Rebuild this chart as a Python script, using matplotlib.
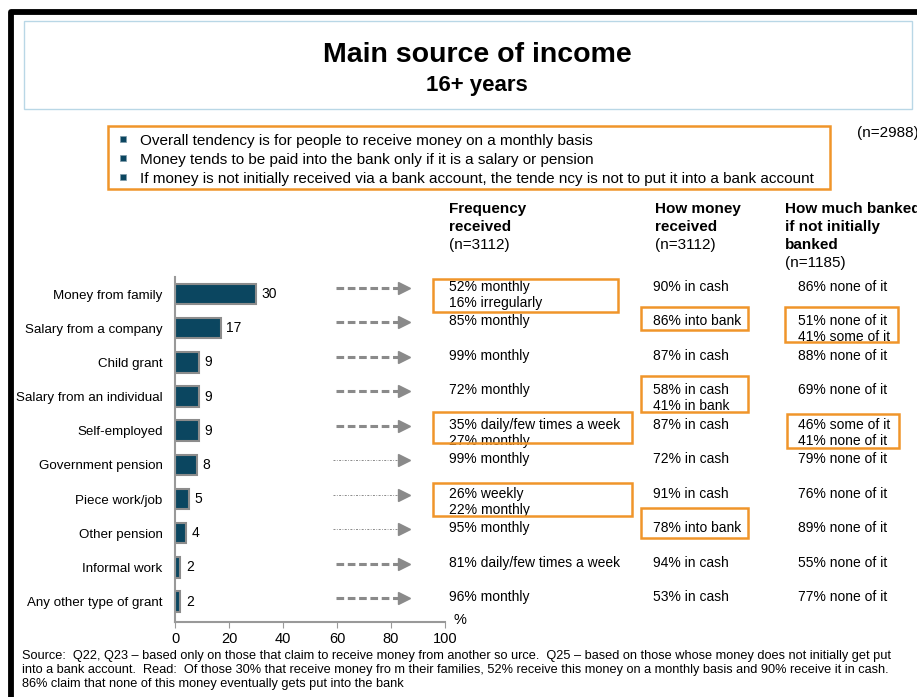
import matplotlib
matplotlib.use("Agg")
import matplotlib.pyplot as plt
from matplotlib.patches import Rectangle

plt.rcParams["font.family"] = ["Liberation Sans", "DejaVu Sans"]

# ---- data -------------------------------------------------------------
categories = ["Money from family", "Salary from a company", "Child grant",
              "Salary from an individual", "Self-employed",
              "Government pension", "Piece work/job", "Other pension",
              "Informal work", "Any other type of grant"]
shares = [30, 17, 9, 9, 9, 8, 5, 4, 2, 2]

freq_received = [["52% monthly", "16% irregularly"], ["85% monthly"],
                 ["99% monthly"], ["72% monthly"],
                 ["35% daily/few times a week", "27% monthly"],
                 ["99% monthly"], ["26% weekly", "22% monthly"],
                 ["95% monthly"], ["81% daily/few times a week"],
                 ["96% monthly"]]
how_received = [["90% in cash"], ["86% into bank"], ["87% in cash"],
                ["58% in cash", "41% in bank"], ["87% in cash"],
                ["72% in cash"], ["91% in cash"], ["78% into bank"],
                ["94% in cash"], ["53% in cash"]]
how_banked = [["86% none of it"], ["51% none of it", "41% some of it"],
              ["88% none of it"], ["69% none of it"],
              ["46% some of it", "41% none of it"], ["79% none of it"],
              ["76% none of it"], ["89% none of it"], ["55% none of it"],
              ["77% none of it"]]

bullets = ["Overall tendency is for people to receive money on a monthly basis",
           "Money tends to be paid into the bank only if it is a salary or pension",
           "If money is not initially received via a bank account, the tende ncy is not to put it into a bank account"]
col_headers = [["Frequency", "received", "(n=3112)"],
               ["How money", "received", "(n=3112)"],
               ["How much banked", "if not initially", "banked", "(n=1185)"]]
header_bold_lines = [2, 2, 3]
footnote = ("Source:  Q22, Q23 \u2013 based only on those that claim to receive money from another so urce.  "
            "Q25 \u2013 based on those whose money does not initially get put\n"
            "into a bank account.  Read:  Of those 30% that receive money fro m their families, "
            "52% receive this money on a monthly basis and 90% receive it in cash.\n"
            "86% claim that none of this money eventually gets put into the bank")
xticks = [0, 20, 40, 60, 80, 100]

# ---- style ------------------------------------------------------------
BAR = "#0b4660"
GREY = "#8a8a8a"
ORANGE = "#f0952a"
W, H = 917, 697

fig = plt.figure(figsize=(W / 100, H / 100), dpi=100)
bg = fig.add_axes([0, 0, 1, 1])
bg.set_xlim(0, W)
bg.set_ylim(H, 0)
bg.axis("off")

# slide frame + title box
bg.plot([11, 11, W + 5], [H + 5, 12, 12], color="black", lw=4.2,
        solid_joinstyle="round", solid_capstyle="butt")
bg.add_patch(Rectangle((24, 21), 888, 88, fill=False, ec="#b9d7e6", lw=1.0))
bg.text(477, 55, "Main source of income", ha="center", va="center",
        fontsize=20.5, fontweight="bold")
bg.text(477, 85, "16+ years", ha="center", va="center",
        fontsize=16, fontweight="bold")

# key findings box
bg.add_patch(Rectangle((108, 126), 722, 63, fill=False, ec=ORANGE, lw=1.8))
for k, line in enumerate(bullets):
    yb = 139 + k * 19
    bg.add_patch(Rectangle((120, yb - 3), 6, 6, fc=BAR, ec="#7f9aa8", lw=0.5))
    bg.text(140, yb + 2, line, va="center", fontsize=11)
bg.text(857, 133, "(n=2988)", va="center", fontsize=11)

# column headers
col_x = [449, 655, 785]
for cx, lines, nb in zip(col_x, col_headers, header_bold_lines):
    for k, line in enumerate(lines):
        bg.text(cx, 209 + k * 18, line, va="center", fontsize=11,
                fontweight="bold" if k < nb else "normal")

# per-row text columns + arrows
text_x = [449, 653, 798]
dotted_rows = {5, 6, 7}
for i in range(len(categories)):
    ty = 287 + i * 34.44
    for cx, col in zip(text_x, (freq_received, how_received, how_banked)):
        for k, line in enumerate(col[i]):
            bg.text(cx, ty + k * 16, line, va="center", fontsize=10, zorder=2)
    if i in dotted_rows:
        bg.plot([333, 400], [ty + 1, ty + 1], color=GREY, lw=0.7,
                linestyle=(0, (2, 1.5, 0.8, 1.5)))
    else:
        bg.plot([336, 399], [ty + 1, ty + 1], color=GREY, lw=2.2,
                dashes=(2.5, 1.2))
    bg.plot(404, ty + 1, marker=">", ms=8, color=GREY, mec=GREY)

# highlight boxes
highlights = [(433, 279, 618, 312), (641, 307, 748, 330), (785, 307, 898, 342),
              (641, 376, 748, 412), (433, 412, 632, 443), (787, 414, 899, 448),
              (433, 483, 632, 516), (641, 508, 748, 538)]
for x0, y0, x1, y1 in highlights:
    bg.add_patch(Rectangle((x0, y0), x1 - x0, y1 - y0, fill=False, ec=ORANGE,
                           lw=1.8, zorder=3))

bg.text(453, 620, "%", va="center", fontsize=10.5)
bg.text(22, 670, footnote, va="center", fontsize=9.2, linespacing=1.25)

# ---- bar chart --------------------------------------------------------
ax = fig.add_axes([175 / W, 1 - 622 / H, 270 / W, 345 / H])
ax.patch.set_alpha(0)
ypos = list(range(len(categories)))
ax.barh(ypos, shares, height=0.6, color=BAR, edgecolor="#8c8c8c", lw=1.5)
for y, v in zip(ypos, shares):
    ax.annotate(str(v), (v, y), xytext=(4, 0), textcoords="offset points",
                va="center", fontsize=10)
ax.set_xlim(0, 100)
ax.set_ylim(9.6, -0.5)
ax.set_yticks(ypos)
ax.set_yticklabels(categories, fontsize=9.6)
ax.tick_params(axis="y", length=0, pad=9)
ax.set_xticks(xticks)
ax.tick_params(axis="x", length=4, color="#999999", labelsize=10.5, pad=3)
for s in ("top", "right"):
    ax.spines[s].set_visible(False)
for s in ("left", "bottom"):
    ax.spines[s].set_color("#999999")
    ax.spines[s].set_linewidth(1.5)

fig.savefig("out.png", dpi=100)
